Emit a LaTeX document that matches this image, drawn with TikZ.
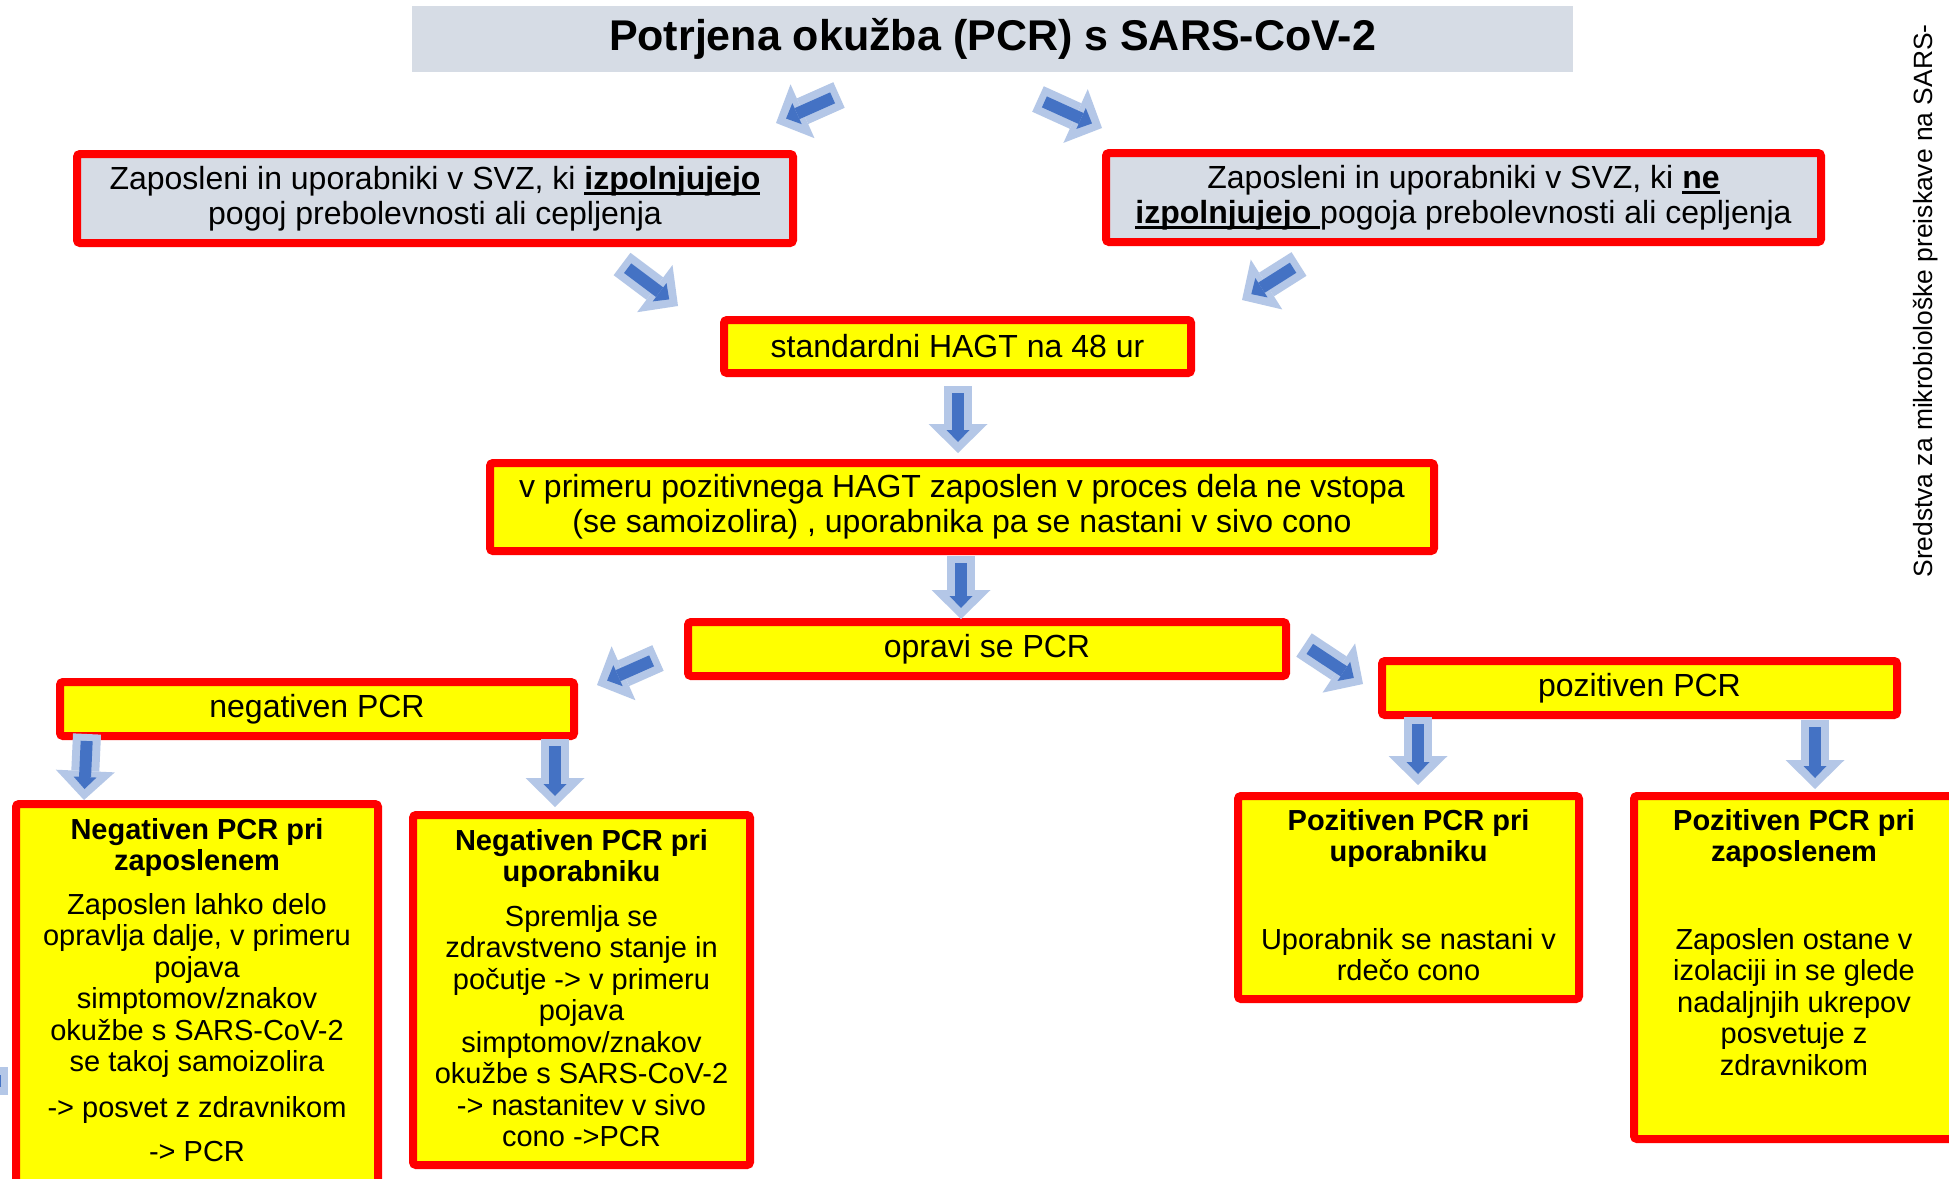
\documentclass[tikz,border=0pt]{standalone}
\usepackage{fontspec}
\setmainfont{Liberation Sans}
\usetikzlibrary{arrows.meta,positioning}

\definecolor{boxred}{HTML}{FF0000}
\definecolor{boxyellow}{HTML}{FFFF00}
\definecolor{boxgray}{HTML}{D6DCE5}
\definecolor{flowdark}{HTML}{4472C4}
\definecolor{flowlight}{HTML}{B4C7E7}

\newcommand{\keyword}[1]{\setbox0\hbox{\textbf{#1}}\rlap{\rule[-5.5pt]{\wd0}{2.4pt}}\box0}

\begin{document}
\begin{tikzpicture}[
		x=1pt, y=-1pt,
		box/.style={draw=boxred, line width=8pt, rounded corners=3pt, inner sep=0pt, align=center, font=\fontsize{32}{35}\selectfont},
		graybox/.style={box, fill=boxgray},
		yellowbox/.style={box, fill=boxyellow},
		detail/.style={inner sep=0pt, align=center, anchor=north, font=\fontsize{29}{31.5}\selectfont},
		flow/.style={draw=flowlight, line width=28pt, -{Triangle[length=29pt, width=59pt, line width=0pt]},
			postaction={draw=flowdark, line width=12pt, shorten <=7pt, shorten >=11pt, -{Triangle[length=12pt, width=23pt, line width=0pt]}}},
	]
		\path[use as bounding box, fill=white] (0,0) rectangle (1949,1178);
		
		\node [fill=boxgray, inner sep=0pt, minimum width=1161pt, minimum height=66pt, font=\bfseries\fontsize{43}{48}\selectfont] (infection) at (992.5,39) {Potrjena okužba (PCR) s SARS-CoV-2};
		\node [graybox, minimum width=716pt, minimum height=89pt] (immune) at (435,198.5) {Zaposleni in uporabniki v SVZ, ki \keyword{izpolnjujejo}\\pogoj prebolevnosti ali cepljenja};
		\node [graybox, minimum width=715pt, minimum height=89pt] (not immune) at (1463.5,197.5) {Zaposleni in uporabniki v SVZ, ki \keyword{ne}\\\keyword{izpolnjujejo\ }pogoja prebolevnosti ali cepljenja};
		\node [yellowbox, minimum width=467pt, minimum height=53pt] (hagt) at (957.5,346.5) {standardni HAGT na 48 ur};
		\node [yellowbox, minimum width=944pt, minimum height=88pt] (isolate) at (962,507) {v primeru pozitivnega HAGT zaposlen v proces dela ne vstopa\\(se samoizolira) , uporabnika pa se nastani v sivo cono};
		\node [yellowbox, minimum width=598pt, minimum height=54pt] (pcr) at (987,649) {opravi se PCR};
		\node [yellowbox, minimum width=514pt, minimum height=54pt] (negative) at (317,709) {negativen PCR};
		\node [yellowbox, minimum width=515pt, minimum height=54pt] (positive) at (1639.5,688) {pozitiven PCR};
		
		\node [yellowbox, minimum width=362pt, minimum height=420pt] (neg staff) at (197,1014) {};
		\node [yellowbox, minimum width=337pt, minimum height=350pt] (neg user) at (581.5,990) {};
		\node [yellowbox, minimum width=341pt, minimum height=203pt] (pos user) at (1408.5,897.5) {};
		\node [yellowbox, minimum width=320pt, minimum height=343pt] (pos staff) at (1794,967.5) {};
		
		\node [detail, below=18pt of neg staff.north] (neg staff text) {\textbf{Negativen PCR pri}\\\textbf{zaposlenem}\\[12pt]Zaposlen lahko delo\\opravlja dalje, v primeru\\pojava\\simptomov/znakov\\okužbe s SARS-CoV-2\\se takoj samoizolira\\[14pt]-> posvet z zdravnikom\\[13pt]-> PCR};
		\node [detail, below=18pt of neg user.north] (neg user text) {\textbf{Negativen PCR pri}\\\textbf{uporabniku}\\[13pt]Spremlja se\\zdravstveno stanje in\\počutje -> v primeru\\pojava\\simptomov/znakov\\okužbe s SARS-CoV-2\\-> nastanitev v sivo\\cono ->PCR};
		\node [detail, below=17pt of pos user.north] (pos user text) {\textbf{Pozitiven PCR pri}\\\textbf{uporabniku}\\[56pt]Uporabnik se nastani v\\rdečo cono};
		\node [detail, below=17pt of pos staff.north] (pos staff text) {\textbf{Pozitiven PCR pri}\\\textbf{zaposlenem}\\[56pt]Zaposlen ostane v\\izolaciji in se glede\\nadaljnjih ukrepov\\posvetuje z\\zdravnikom};
		
		\node [rotate=90, inner sep=0pt, font=\fontsize{26.4}{30}\selectfont] (side note) at (1926,301) {Sredstva za mikrobiološke preiskave na SARS-};
		
		% block arrows between the boxes
		\coordinate (immune from) at (839,95);
		\coordinate (immune to) at (776,123);
		\coordinate (not immune from) at (1038,99);
		\coordinate (not immune to) at (1102,128);
		\coordinate (hagt from a) at (622,264);
		\coordinate (hagt to a) at (678,306);
		\coordinate (hagt from b) at (1299,264);
		\coordinate (hagt to b) at (1242,300);
		\coordinate (isolate from) at (958,386);
		\coordinate (isolate to) at (958,453);
		\coordinate (pcr from) at (961,556);
		\coordinate (pcr to) at (961,619);
		\coordinate (negative from) at (658,658);
		\coordinate (negative to) at (597,685);
		\coordinate (positive from) at (1304,645);
		\coordinate (positive to) at (1363,684);
		\coordinate (neg staff from) at (87,734);
		\coordinate (neg staff to) at (84,800);
		\coordinate (neg user from) at (555,739);
		\coordinate (neg user to) at (555,807);
		\coordinate (pos user from) at (1418,717);
		\coordinate (pos user to) at (1418,785);
		\coordinate (pos staff from) at (1815,720);
		\coordinate (pos staff to) at (1815,789);
		\coordinate (edge from) at (8,1081);
		\coordinate (edge to) at (-61,1081);
		
		\draw[flow] (immune from) -- (immune to);
		\draw[flow] (not immune from) -- (not immune to);
		\draw[flow] (hagt from a) -- (hagt to a);
		\draw[flow] (hagt from b) -- (hagt to b);
		\draw[flow] (isolate from) -- (isolate to);
		\draw[flow] (pcr from) -- (pcr to);
		\draw[flow] (negative from) -- (negative to);
		\draw[flow] (positive from) -- (positive to);
		\draw[flow] (neg staff from) -- (neg staff to);
		\draw[flow] (neg user from) -- (neg user to);
		\draw[flow] (pos user from) -- (pos user to);
		\draw[flow] (pos staff from) -- (pos staff to);
		\draw[flow] (edge from) -- (edge to);
	\end{tikzpicture}
\end{document}
